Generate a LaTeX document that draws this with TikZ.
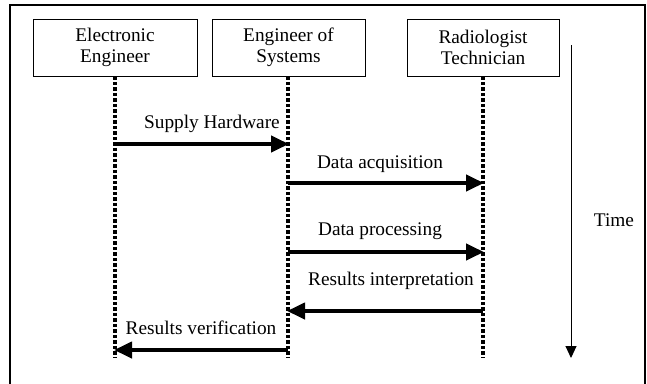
\documentclass[tikz,border=0pt]{standalone}
\usepackage{fontspec}
\setmainfont{Liberation Serif}
\usetikzlibrary{arrows.meta}
\tikzset{
  actor/.style={draw, line width=0.9pt, minimum height=57pt, align=center, inner sep=0pt, font=\fontsize{19.3}{21.5}\selectfont},
  lifeline/.style={line width=4pt, dash pattern=on 3.5pt off 2pt},
  msg/.style={line width=4pt, -{Triangle[length=18pt,width=16pt]}, shorten >=-1pt},
  lbl/.style={anchor=base, inner sep=0pt, font=\fontsize{19.3}{21.5}\selectfont},
  timearrow/.style={line width=1pt, -{Triangle[length=12pt,width=11pt]}},
  frame/.style={line width=2pt}
}
\begin{document}
\begin{tikzpicture}[x=1pt,y=-1pt]
\useasboundingbox (0,0) rectangle (647,383);
\draw[frame] (10,390) -- (10,5) -- (645,5) -- (645,390);
\node[actor, minimum width=164pt] (ee) at (115,47.5) {Electronic\\Engineer};
\node[actor, minimum width=153pt] (es) at (288.5,47.5) {Engineer of\\Systems};
\node[actor, minimum width=152pt] (rt) at (483,47.5) {Radiologist\\Technician};
\coordinate (eeEnd) at (115,358);
\coordinate (esEnd) at (288,358);
\coordinate (rtEnd) at (483,358);
\draw[lifeline] (ee.south) -- (eeEnd);
\draw[lifeline] (es.south -| esEnd) -- (esEnd);
\draw[lifeline] (rt.south) -- (rtEnd);
% message points
\coordinate (m1a) at (115,144); \coordinate (m1b) at (288,144);
\coordinate (m2a) at (288,183); \coordinate (m2b) at (483,183);
\coordinate (m3a) at (288,252); \coordinate (m3b) at (483,252);
\coordinate (m4a) at (483,311); \coordinate (m4b) at (288,311);
\coordinate (m5a) at (288,350); \coordinate (m5b) at (115,350);
\draw[msg] (m1a) -- (m1b);
\draw[msg] (m2a) -- (m2b);
\draw[msg] (m3a) -- (m3b);
\draw[msg] (m4a) -- (m4b);
\draw[msg] (m5a) -- (m5b);
\node[lbl] (l1) at (212,128) {Supply Hardware};
\node[lbl] (l2) at (380,168) {Data acquisition};
\node[lbl] (l3) at (380,235) {Data processing};
\node[lbl] (l4) at (391,285) {Results interpretation};
\node[lbl] (l5) at (201,334) {Results verification};
\coordinate (t0) at (571,45);
\coordinate (t1) at (571,358);
\draw[timearrow] (t0) -- (t1);
\node[lbl] (time) at (614,226) {Time};
\end{tikzpicture}
\end{document}
